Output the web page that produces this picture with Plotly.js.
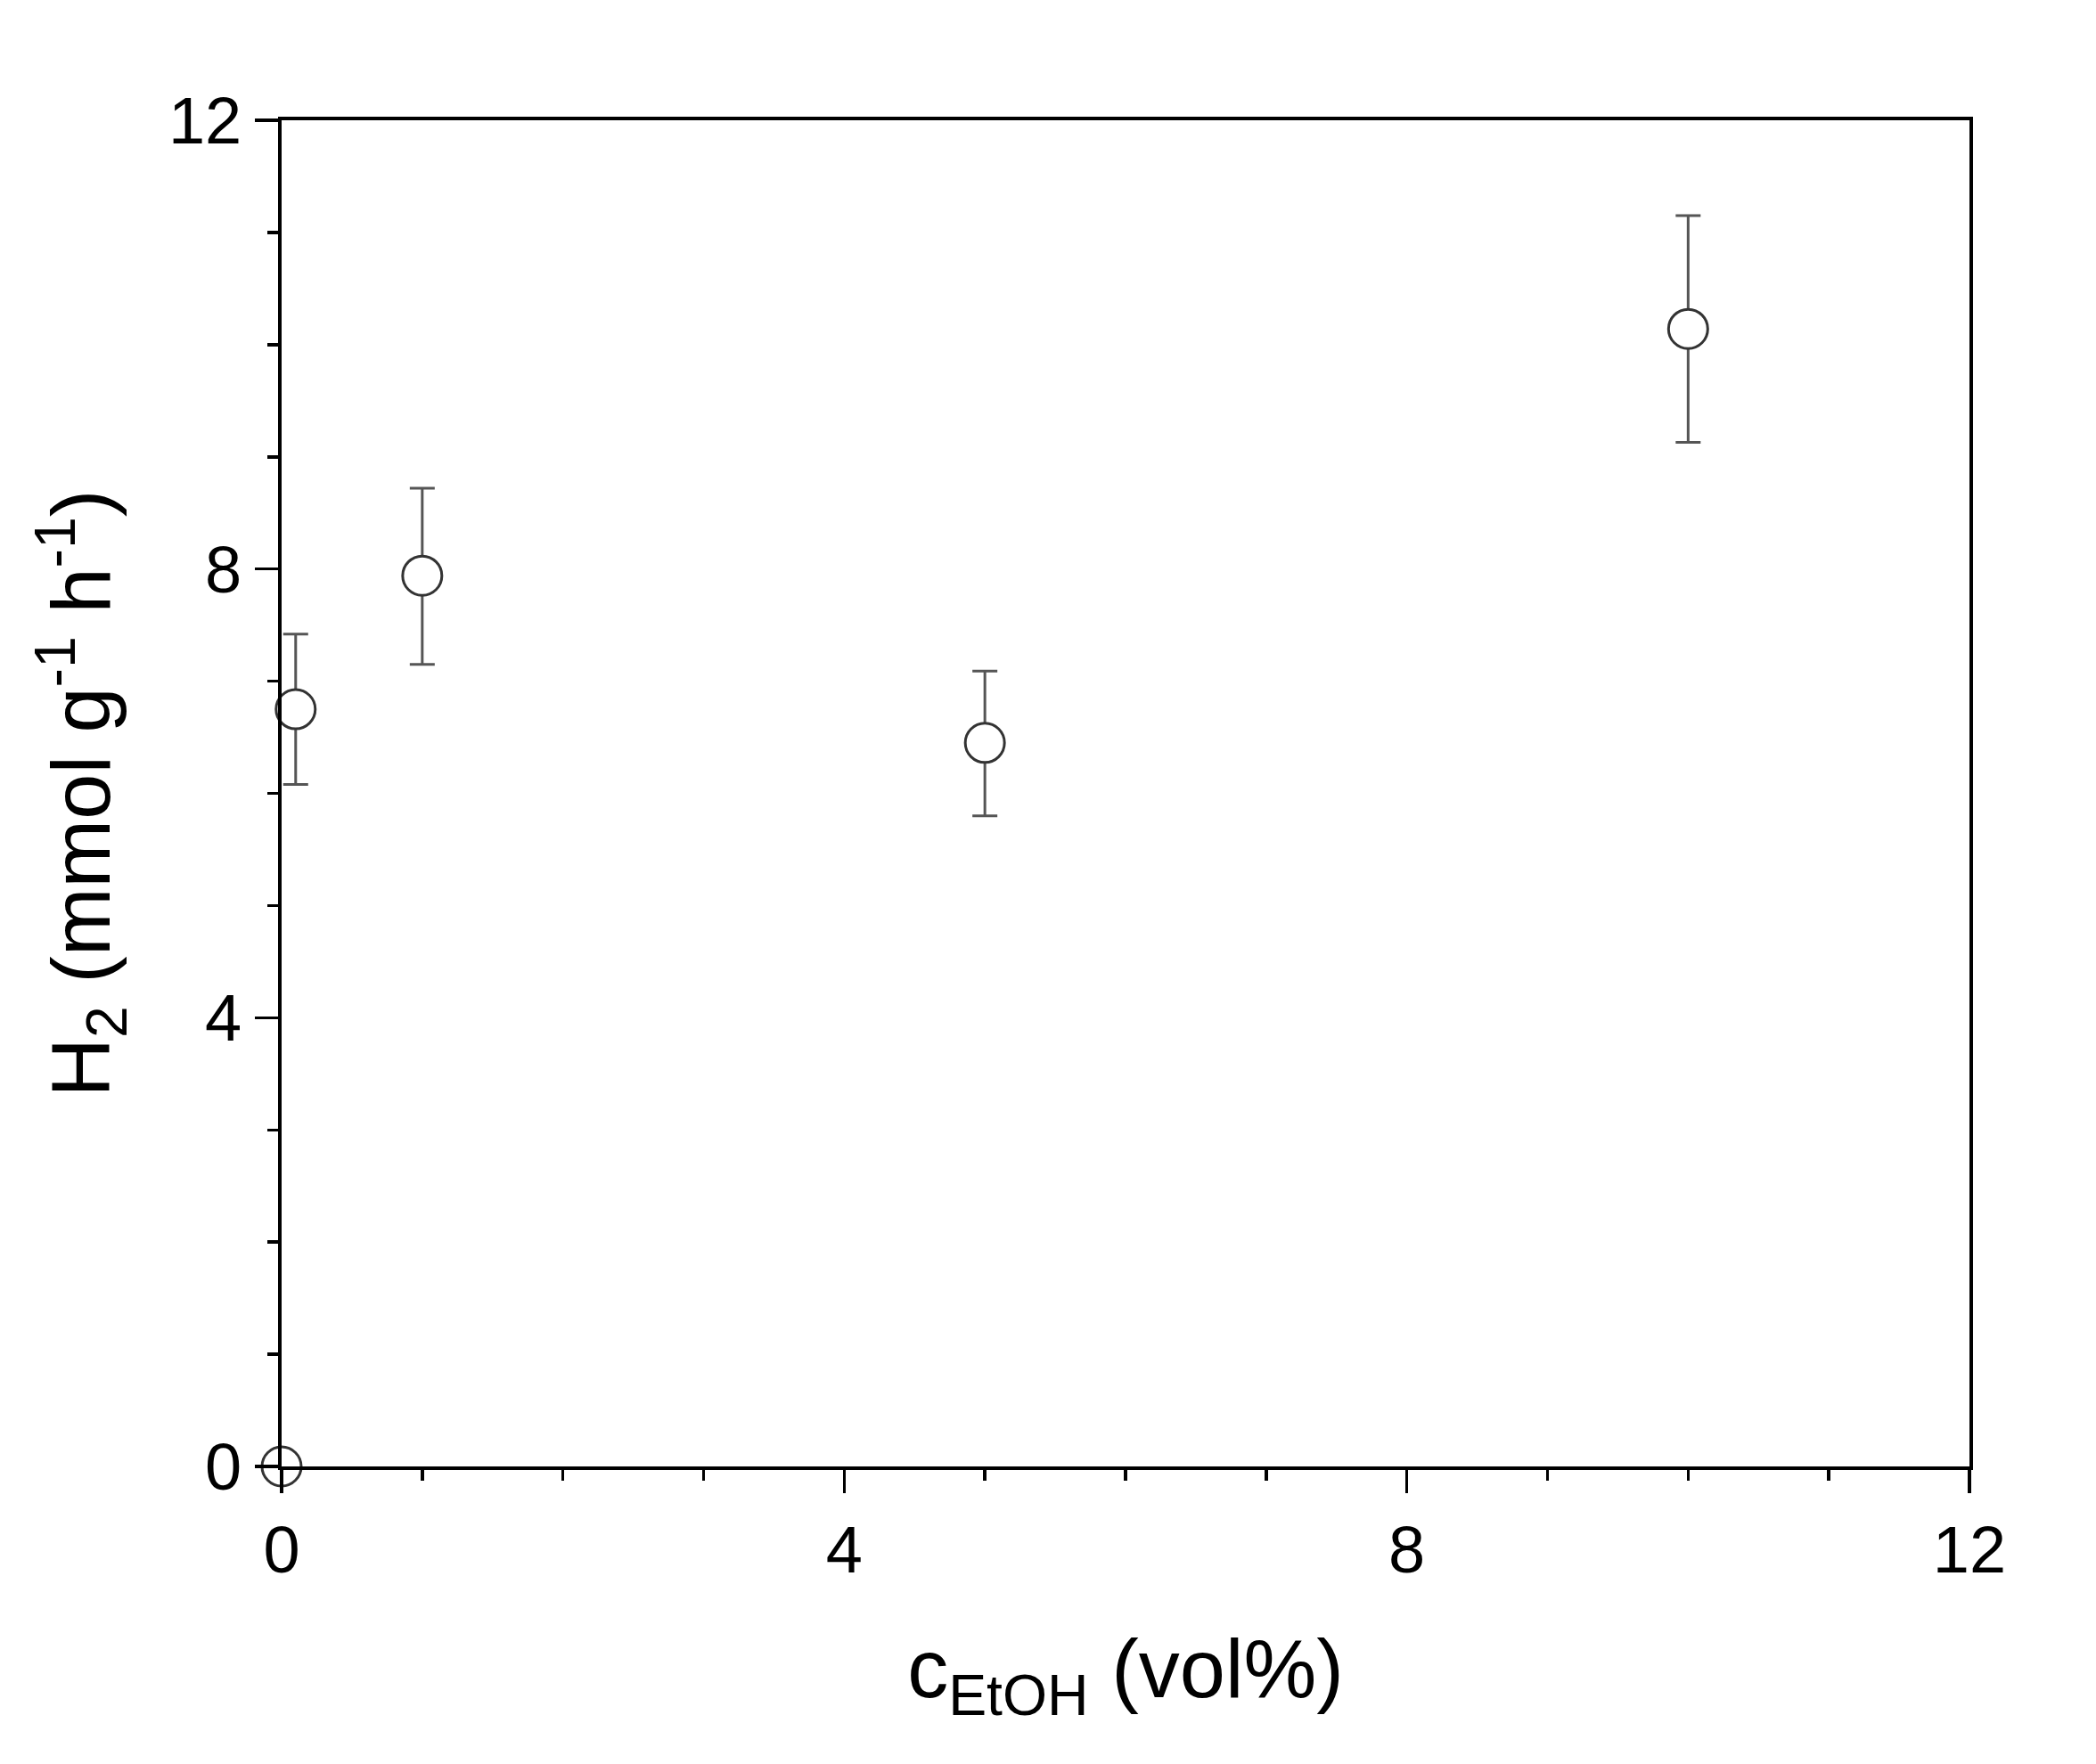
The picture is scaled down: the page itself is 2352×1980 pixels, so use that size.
<!DOCTYPE html>
<html>
<head>
<meta charset="utf-8">
<script src="https://cdn.plot.ly/plotly-3.0.1.min.js"></script>
<style>
  html, body { margin: 0; padding: 0; background: #fff; }
  #chart { width: 2352px; height: 1980px; }
</style>
</head>
<body>
<div id="chart"></div>
<script>
// ethanol concentration (vol%) vs H2 production rate
var ethanol = [0, 0.1, 1, 5, 10];
var h2Rate = [0, 6.75, 7.94, 6.45, 10.14];
var errPlus = [0, 0.67, 0.78, 0.64, 1.01];
var errMinus = [0.2, 0.67, 0.79, 0.65, 1.01];

var tickVals = [0, 4, 8, 12];
var tickText = ['0', '4', '8', '12'];

var trace = {
  x: ethanol,
  y: h2Rate,
  type: 'scatter',
  mode: 'markers',
  cliponaxis: false,
  marker: {
    symbol: 'circle',
    size: 44,
    color: '#ffffff',
    line: { color: '#333333', width: 3 }
  },
  error_y: {
    type: 'data',
    symmetric: false,
    array: errPlus,
    arrayminus: errMinus,
    color: '#555555',
    thickness: 3,
    width: 14
  },
  showlegend: false
};

var axisFont = { family: 'Liberation Sans, Arial, sans-serif', size: 74, color: '#000' };

var layout = {
  width: 2352,
  height: 1980,
  paper_bgcolor: '#fff',
  plot_bgcolor: '#fff',
  margin: { l: 316, r: 142, t: 135, b: 334 },
  font: { family: 'Liberation Sans, Arial, sans-serif', color: '#000' },
  xaxis: {
    range: [0, 12],
    tickvals: tickVals,
    ticktext: tickText,
    ticks: 'outside',
    ticklen: 26,
    tickwidth: 3.5,
    tickcolor: '#000',
    tickfont: axisFont,
    showline: true,
    linecolor: '#000',
    linewidth: 4,
    mirror: true,
    showgrid: false,
    zeroline: false,
    minor: { dtick: 1, ticks: 'outside', ticklen: 12, tickwidth: 3.5, tickcolor: '#000', showgrid: false },
    title: {
      text: 'c<sub>EtOH</sub> (vol%)',
      font: { family: 'Liberation Sans, Arial, sans-serif', size: 92, color: '#000' },
      standoff: 62
    }
  },
  yaxis: {
    range: [0, 12],
    tickvals: tickVals,
    ticktext: tickText,
    ticks: 'outside',
    ticklen: 26,
    tickwidth: 3.5,
    tickcolor: '#000',
    tickfont: axisFont,
    showline: true,
    linecolor: '#000',
    linewidth: 4,
    mirror: true,
    showgrid: false,
    zeroline: false,
    minor: { dtick: 1, ticks: 'outside', ticklen: 12, tickwidth: 3.5, tickcolor: '#000', showgrid: false },
    title: {
      text: 'H<sub>2</sub> (mmol g<sup>-1</sup> h<sup>-1</sup>)',
      font: { family: 'Liberation Sans, Arial, sans-serif', size: 92, color: '#000' },
      standoff: 36
    }
  }
};

Plotly.newPlot('chart', [trace], layout, { displayModeBar: false, staticPlot: true });
</script>
</body>
</html>
